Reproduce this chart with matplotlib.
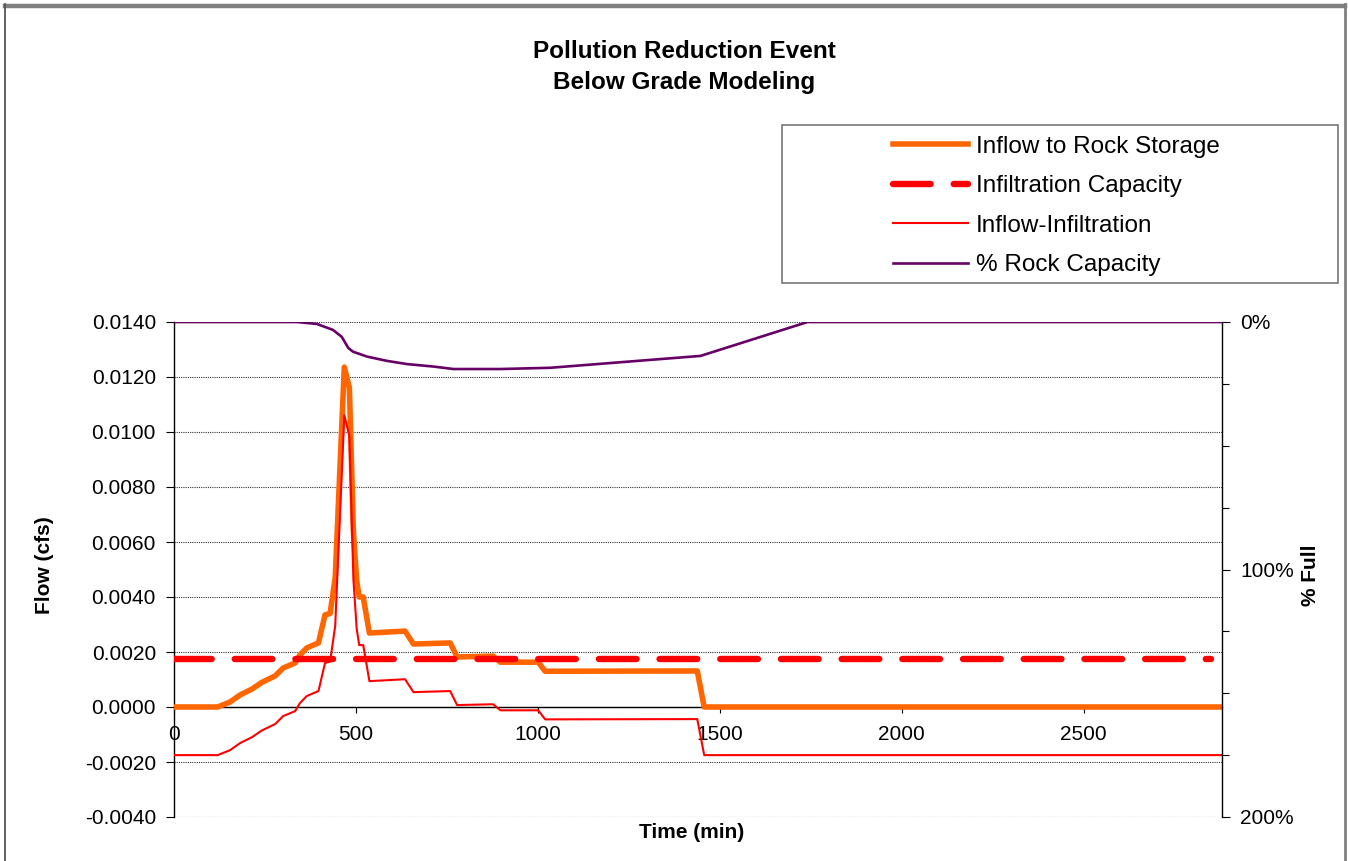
import numpy as np
import matplotlib
matplotlib.use("Agg")
import matplotlib.pyplot as plt
from matplotlib.ticker import MultipleLocator, FixedLocator, FuncFormatter
from matplotlib.patches import Rectangle
from matplotlib.lines import Line2D

plt.rcParams['font.family'] = ['Liberation Sans', 'DejaVu Sans']

# Inflow to rock storage (cfs) vs time (min)
time_in = [0, 120, 154, 182, 214, 242, 278, 300, 333, 346, 365, 397, 415, 429, 443,
           468, 482, 493, 502, 509, 520, 537, 635, 658, 759, 778, 877, 897, 1001,
           1020, 1438, 1457, 2880]
inflow = [0, 0, 0.00018, 0.00044, 0.00065, 0.0009, 0.00113, 0.00142, 0.0016, 0.00189,
          0.00215, 0.00233, 0.00335, 0.0034, 0.0047, 0.01236, 0.0116, 0.0064, 0.0046,
          0.0040, 0.0040, 0.00269, 0.00276, 0.00229, 0.00233, 0.00182, 0.00185,
          0.00163, 0.00163, 0.0013, 0.00131, 0, 0]

# Inflow - infiltration (cfs), same time steps
net_flow = [-0.00175, -0.00175, -0.00157, -0.00131, -0.0011, -0.00085, -0.00062,
            -0.00033, -0.00015, 0.00014, 0.0004, 0.00058, 0.0016, 0.00165, 0.00295,
            0.01061, 0.00985, 0.00465, 0.00285, 0.00225, 0.00225, 0.00094, 0.00101,
            0.00054, 0.00058, 0.00007, 0.0001, -0.00012, -0.00012, -0.00045,
            -0.00044, -0.00175, -0.00175]

# infiltration capacity (cfs)
time_cap = [0, 2850]
infil_cap = [0.00175, 0.00175]

# % rock capacity (secondary axis)
time_pct = [0, 338, 393, 437, 461, 479, 492, 531, 585, 640, 713, 768, 896, 1034,
            1447, 1741, 2880]
rock_pct = [0, 0, 0.8, 3.2, 6, 10.5, 12, 14, 15.7, 17, 18, 19, 19, 18.5, 13.7, 0, 0]

W, H = 1348, 861
fig = plt.figure(figsize=(W / 100, H / 100), dpi=100)

# outer chart border (excel chart area)
fig.add_artist(Line2D([5 / W, 1345 / W], [1 - 5.5 / H, 1 - 5.5 / H], color='#808080', lw=3.2))
fig.add_artist(Line2D([5 / W, 5 / W], [0, 1 - 4 / H], color='#555555', lw=1.3))
fig.add_artist(Line2D([1345 / W, 1345 / W], [0, 1 - 4 / H], color='#808080', lw=2))

ax = fig.add_axes([174 / W, 1 - 817 / H, (1222 - 174) / W, (817 - 322) / H])
ax.set_xlim(0, 2880)
ax.set_ylim(-0.004, 0.014)

ax.plot(time_in, inflow, color='#FF6600', lw=4.0, solid_joinstyle='round',
        label='Inflow to Rock Storage', zorder=3)
cap_line, = ax.plot(time_cap, infil_cap, color='#FF0000', lw=4.6,
                    dash_capstyle='round', label='Infiltration Capacity', zorder=4)
cap_line.set_dashes((5.9, 3.6))
ax.plot(time_in, net_flow, color='#FF0000', lw=1.5, label='Inflow-Infiltration', zorder=5)

ax.yaxis.set_major_locator(MultipleLocator(0.002))
ax.yaxis.set_major_formatter(FuncFormatter(lambda v, p: f"{v:.4f}"))
ax.xaxis.set_major_locator(MultipleLocator(500))
ax.yaxis.grid(True, linestyle=(0, (1, 1)), color='#333333', lw=0.8)
ax.set_axisbelow(True)

ax.spines['bottom'].set_position(('data', 0))
ax.spines['top'].set_visible(False)
ax.spines['right'].set_visible(False)
for s in ['left', 'bottom']:
    ax.spines[s].set_color('black')
    ax.spines[s].set_linewidth(1.0)
    ax.spines[s].set_zorder(2)

ax.tick_params(axis='y', direction='out', length=6, width=0.8, pad=7, labelsize=15)
ax.tick_params(axis='x', direction='out', length=4, width=0.8, pad=9, labelsize=15)

ax2 = ax.twinx()
ax2.set_ylim(200, 0)
ax2.plot(time_pct, rock_pct, color='#660066', lw=1.9, label='% Rock Capacity')
ax2.yaxis.set_major_locator(FixedLocator([0, 100, 200]))
ax2.yaxis.set_minor_locator(MultipleLocator(25))
ax2.yaxis.set_major_formatter(FuncFormatter(lambda v, p: f"{v:.0f}%"))
for s in ['left', 'top', 'bottom']:
    ax2.spines[s].set_visible(False)
ax2.spines['right'].set_color('black')
ax2.spines['right'].set_linewidth(1.0)
ax2.tick_params(axis='y', which='major', direction='out', length=6, width=0.8, pad=7, labelsize=15)
ax2.tick_params(axis='y', which='minor', direction='out', length=5, width=0.8)

fig.text(45 / W, 1 - 565 / H, 'Flow (cfs)', rotation=90, ha='center', va='center',
         fontsize=15, fontweight='bold')
fig.text(692 / W, 1 - 833 / H, 'Time (min)', ha='center', va='center',
         fontsize=15, fontweight='bold')
fig.text(1310 / W, 1 - 575 / H, '% Full', rotation=90, ha='center', va='center',
         fontsize=15, fontweight='bold')

fig.text(684 / W, 1 - 52 / H, 'Pollution Reduction Event', ha='center', va='center',
         fontsize=17.5, fontweight='bold')
fig.text(684 / W, 1 - 82 / H, 'Below Grade Modeling', ha='center', va='center',
         fontsize=17.5, fontweight='bold')

# legend box
fig.add_artist(Rectangle((782 / W, 1 - 283 / H), (1338 - 782) / W, (283 - 125) / H,
                         transform=fig.transFigure, fill=False, edgecolor='#777777', lw=1.2))
h1, l1 = ax.get_legend_handles_labels()
h2, l2 = ax2.get_legend_handles_labels()
fig.legend(h1 + h2, l1 + l2, loc='center left', bbox_to_anchor=(893 / W, 1 - 206 / H),
           frameon=False, fontsize=17.5, handlelength=3.1, handletextpad=0.3,
           labelspacing=0.72, borderpad=0, borderaxespad=0)

fig.savefig('out.png', dpi=100)
